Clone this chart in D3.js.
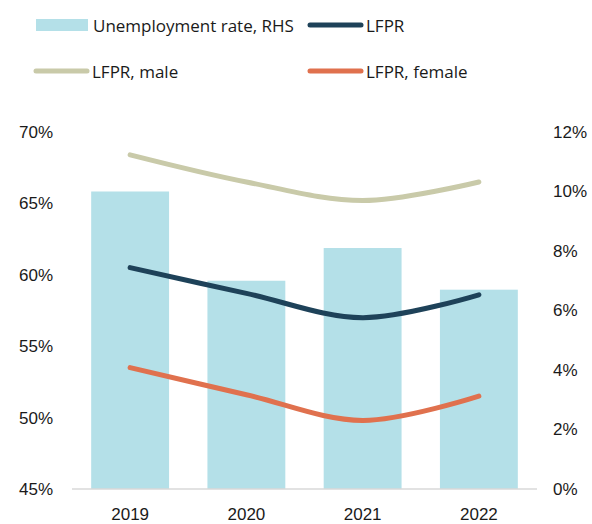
<!DOCTYPE html>
<html>
<head>
<meta charset="utf-8">
<script src="https://d3js.org/d3.v7.min.js"></script>
<style>
  body { margin: 0; background: #fff; }
  svg { display: block; font-family: "Open Sans", "Noto Sans", sans-serif; }
  text { fill: #1a1a1a; font-size: 17px; }
</style>
</head>
<body>
<svg id="chart" width="592" height="524"></svg>
<script>
// data
const years = ["2019", "2020", "2021", "2022"];
const unemployment = [10.0, 7.0, 8.1, 6.7];   // RHS, %
const lfpr = [60.5, 58.7, 57.0, 58.6];
const lfprMale = [68.4, 66.5, 65.2, 66.5];
const lfprFemale = [53.5, 51.6, 49.8, 51.5];
const leftTicks = [45, 50, 55, 60, 65, 70];
const rightTicks = [0, 2, 4, 6, 8, 10, 12];

const svg = d3.select("#chart");

const x = d3.scaleBand().domain(years).range([72, 537]).paddingInner(0.33).paddingOuter(0.165);
const yL = d3.scaleLinear().domain([45, 70]).range([489, 132]);
const yR = d3.scaleLinear().domain([0, 12]).range([489, 132]);

// bars
svg.append("g").selectAll("rect")
  .data(unemployment)
  .enter().append("rect")
  .attr("x", (d, i) => x(years[i]))
  .attr("width", x.bandwidth())
  .attr("y", d => yR(d))
  .attr("height", d => yR(0) - yR(d))
  .attr("fill", "#b4e0e8");

// base axis line
svg.append("line")
  .attr("x1", x.range()[0]).attr("x2", x.range()[1])
  .attr("y1", yL(45)).attr("y2", yL(45))
  .attr("stroke", "#d9d9d9").attr("stroke-width", 1.5);

// left axis
const leftAxis = d3.axisLeft(yL).tickValues(leftTicks).tickSize(0).tickPadding(0).tickFormat(d => d + "%");
svg.append("g").attr("transform", "translate(53,0)").call(leftAxis)
  .call(g => g.select(".domain").remove())
  .selectAll("text").attr("font-size", 17).attr("font-family", null).attr("fill", "#1a1a1a");

// right axis
const rightAxis = d3.axisRight(yR).tickValues(rightTicks).tickSize(0).tickPadding(0).tickFormat(d => d + "%");
svg.append("g").attr("transform", "translate(553,0)").call(rightAxis)
  .call(g => g.select(".domain").remove())
  .selectAll("text").attr("font-size", 17).attr("font-family", null).attr("fill", "#1a1a1a");

// bottom axis labels
const bottomAxis = d3.axisBottom(x).tickSize(0).tickPadding(0);
svg.append("g").attr("transform", "translate(0,508)").call(bottomAxis)
  .call(g => g.select(".domain").remove())
  .selectAll("text").attr("font-size", 17).attr("font-family", null).attr("fill", "#1a1a1a");

// lines
const line = d3.line()
  .x((d, i) => x(years[i]) + x.bandwidth() / 2)
  .y(d => yL(d))
  .curve(d3.curveCatmullRom.alpha(0.5));

const series = [
  { name: "LFPR, male", values: lfprMale, color: "#c9caa9" },
  { name: "LFPR", values: lfpr, color: "#1e4259" },
  { name: "LFPR, female", values: lfprFemale, color: "#e0714e" }
];

series.forEach(s => {
  svg.append("path")
    .attr("d", line(s.values))
    .attr("fill", "none")
    .attr("stroke", s.color)
    .attr("stroke-width", 5)
    .attr("stroke-linecap", "round");
});

// legend
const legend = svg.append("g");
legend.append("rect").attr("x", 36).attr("y", 19).attr("width", 52).attr("height", 12).attr("fill", "#b4e0e8");
legend.append("text").attr("x", 93).attr("y", 31.5).text("Unemployment rate, RHS");

const legendLines = [
  { s: series[1], x: 310, y: 25 },
  { s: series[0], x: 36, y: 71 },
  { s: series[2], x: 310, y: 71 }
];
legendLines.forEach(l => {
  legend.append("line")
    .attr("x1", l.x).attr("x2", l.x + 51)
    .attr("y1", l.y).attr("y2", l.y)
    .attr("stroke", l.s.color).attr("stroke-width", 5).attr("stroke-linecap", "round");
  legend.append("text").attr("x", l.x + 56).attr("y", l.y + 6.5).text(l.s.name);
});
</script>
</body>
</html>
